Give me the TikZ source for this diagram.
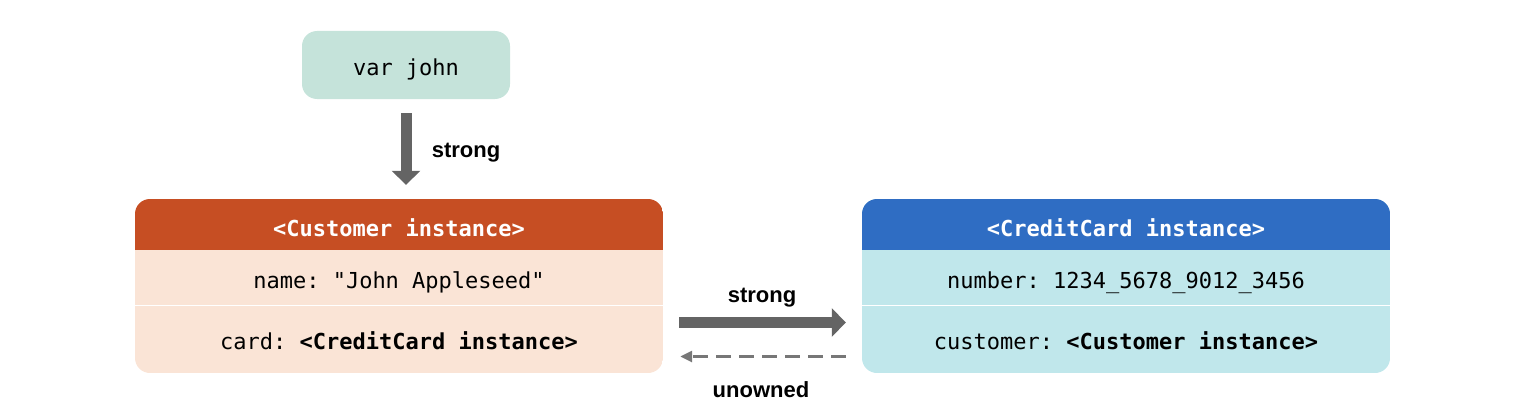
\documentclass[tikz,border=0pt]{standalone}
\usepackage{fontspec}
\setmainfont{Liberation Sans}
\setmonofont{DejaVu Sans Mono}
\usetikzlibrary{arrows.meta}
\definecolor{cTeal}{HTML}{C5E3DA}
\definecolor{cRust}{HTML}{C64E23}
\definecolor{cPeach}{HTML}{FAE4D6}
\definecolor{cBlue}{HTML}{2F6DC3}
\definecolor{cCyan}{HTML}{C0E7EB}
\definecolor{cArrow}{HTML}{646464}
\definecolor{cDash}{HTML}{777777}
\begin{document}
\begin{tikzpicture}[x=1pt,y=-1pt,
  mono/.style={font=\fontsize{22}{24}\ttfamily, text=black, inner sep=0pt, anchor=base},
  monohead/.style={font=\fontsize{22}{24}\ttfamily\bfseries, text=white, inner sep=0pt, anchor=base},
  lbl/.style={font=\fontsize{22}{26}\selectfont\bfseries, text=black, inner sep=0pt, anchor=base},
  boxarea/.style={minimum width=528pt, inner sep=0pt},
  fat/.style={draw=cArrow, line width=11pt, -{Triangle[width=28pt,length=14pt]}},
  weak/.style={draw=cDash, line width=3pt, dash pattern=on 15pt off 8pt, -{Triangle[width=11pt,length=12pt]}},
]
\useasboundingbox (0,0) rectangle (1518,412);

% var john
\node[fill=cTeal, rounded corners=15pt, minimum width=208pt, minimum height=68pt] (john) at (406,65) {};
\node[mono] (johnT) at (406,75.5) {var john};

% Customer box background
\begin{scope}
  \clip[rounded corners=15pt] (135,199) rectangle (663,373);
  \fill[cPeach] (135,199) rectangle (663,373);
  \fill[cRust] (135,199) rectangle (663,250);
  \draw[white, line width=1.5pt] (135,305.5) -- (663,305.5);
\end{scope}
\node[boxarea, minimum height=174pt] (cust) at (399,286) {};
\node[boxarea, minimum height=51pt] (custHead) at (399,224.5) {};
\node[monohead] (custHeadT) at (399,236) {<Customer instance>};
\node[mono] (custName) at (399,288.5) {name: "John Appleseed"};
\node[mono] (custCard) at (399,349) {card: \textbf{<CreditCard instance>}};

% CreditCard box background
\begin{scope}
  \clip[rounded corners=15pt] (862,199) rectangle (1390,373);
  \fill[cCyan] (862,199) rectangle (1390,373);
  \fill[cBlue] (862,199) rectangle (1390,250);
  \draw[white, line width=1.5pt] (862,305.5) -- (1390,305.5);
\end{scope}
\node[boxarea, minimum height=174pt] (card) at (1126,286) {};
\node[boxarea, minimum height=51pt] (cardHead) at (1126,224.5) {};
\node[monohead] (cardHeadT) at (1126,236) {<CreditCard instance>};
\node[mono] (cardNum) at (1126,288.5) {number: 1234\_5678\_9012\_3456};
\node[mono] (cardCust) at (1126,349) {customer: \textbf{<Customer instance>}};

% connectors
\draw[fat, shorten <=14pt, shorten >=14pt] (john.south) -- (john.south |- custHead.north);
\node[lbl] (lblJ) at (466,157) {strong};

\coordinate (sA) at (cust.east |- 0,322.5);
\coordinate (sB) at (card.west |- 0,322.5);
\draw[fat, shorten <=16pt, shorten >=16pt] (sA) -- (sB);
\node[lbl] (lblS) at (762,302.5) {strong};

\coordinate (uA) at (card.west |- 0,356.5);
\coordinate (uB) at (cust.east |- 0,356.5);
\draw[weak, shorten <=16pt, shorten >=17pt] (uA) -- (uB);
\node[lbl] (lblU) at (761,397) {unowned};
\end{tikzpicture}
\end{document}
